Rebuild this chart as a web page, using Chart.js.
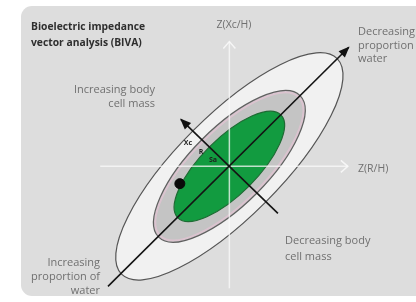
<!DOCTYPE html>
<html>
<head>
<meta charset="utf-8">
<script src="https://cdn.jsdelivr.net/npm/chart.js@4"></script>
<style>
    html, body { margin: 0; padding: 0; background: #ffffff; }
    #wrap { width: 416px; height: 302px; position: relative; }
</style>
</head>
<body>
<div id="wrap"><canvas id="biva"></canvas></div>
<script>
// Tolerance ellipses (outer -> inner), centred on the axis origin, tilted 45deg
const ellipseNames = ['95%', '75%', '50%'];
const ellipseCenterX = [0, 0, 0];
const ellipseCenterY = [0, 0, 0];
const ellipseSemiMajor = [15.7, 10.3, 7.5];
const ellipseSemiMinor = [5.3, 4.0, 2.9];
const ellipseAngleDeg = [45, 45, 45];

// Axes Z(R/H) and Z(Xc/H)
const axisRX = [-13.3, 12.2];
const axisRY = [0, 0];
const axisXcX = [0, 0];
const axisXcY = [-12.7, 13.0];

// Hydration arrow (major axis) and body cell mass arrow (minor axis)
const waterArrowX = [-12.5, 12.3];
const waterArrowY = [-12.5, 12.4];
const massArrowX = [5.0, -5.0];
const massArrowY = [-4.9, 4.9];

// Subject vector point
const subjectX = [-5.1];
const subjectY = [-1.8];

const titleLines = ['Bioelectric impedance', 'vector analysis (BIVA)'];
const axisLabelR = 'Z(R/H)';
const axisLabelXc = 'Z(Xc/H)';
const massUpLines = ['Increasing body', 'cell mass'];
const massDownLines = ['Decreasing body', 'cell mass'];
const waterDownLines = ['Decreasing', 'proportion of', 'water'];
const waterUpLines = ['Increasing', 'proportion of', 'water'];
const markLabels = ['Xc', 'R', 'Sa'];

const ellipseFills = ['#f1f1f1', '#c4c4c4', '#129b40'];
const ellipseStrokes = ['#555555', '#606060', '#1d6b33'];

function pts(xs, ys) {
    return xs.map((x, i) => ({ x: x, y: ys[i] }));
}

const FONT = '"Open Sans", "Liberation Sans", sans-serif';

const bivaPlugin = {
    id: 'biva',
    beforeDraw(chart) {
        const ctx = chart.ctx;
        ctx.save();
        ctx.fillStyle = '#ffffff';
        ctx.fillRect(0, 0, chart.width, chart.height);
        ctx.fillStyle = '#dddddd';
        ctx.beginPath();
        ctx.roundRect(21, 6, chart.width - 21 + 10, 290, 11);
        ctx.fill();
        ctx.restore();
    },
    beforeDatasetsDraw(chart) {
        const ctx = chart.ctx;
        const xs = chart.scales.x;
        const ys = chart.scales.y;
        ctx.save();
        ellipseNames.forEach((name, i) => {
            const cx = xs.getPixelForValue(ellipseCenterX[i]);
            const cy = ys.getPixelForValue(ellipseCenterY[i]);
            const rx = Math.abs(xs.getPixelForValue(ellipseSemiMajor[i]) - xs.getPixelForValue(0));
            const ry = Math.abs(ys.getPixelForValue(ellipseSemiMinor[i]) - ys.getPixelForValue(0));
            const rot = -ellipseAngleDeg[i] * Math.PI / 180;
            ctx.beginPath();
            ctx.ellipse(cx, cy, rx, ry, rot, 0, Math.PI * 2);
            ctx.fillStyle = ellipseFills[i];
            ctx.fill();
            if (i === 1) {
                // faint pinkish rim inside the middle ellipse
                ctx.beginPath();
                ctx.ellipse(cx, cy, rx - 2, ry - 2, rot, 0, Math.PI * 2);
                ctx.strokeStyle = 'rgba(225,195,210,0.8)';
                ctx.lineWidth = 2;
                ctx.stroke();
                ctx.beginPath();
                ctx.ellipse(cx, cy, rx, ry, rot, 0, Math.PI * 2);
            }
            ctx.strokeStyle = ellipseStrokes[i];
            ctx.lineWidth = 1.2;
            ctx.stroke();
        });
        ctx.restore();
    },
    afterDatasetsDraw(chart) {
        const ctx = chart.ctx;
        ctx.save();

        // arrow heads
        chart.data.datasets.forEach((ds, i) => {
            if (!ds.head) return;
            const meta = chart.getDatasetMeta(i);
            const n = meta.data.length;
            const tip = meta.data[n - 1];
            const from = meta.data[n - 2];
            const ang = Math.atan2(tip.y - from.y, tip.x - from.x);
            ctx.save();
            ctx.translate(tip.x, tip.y);
            ctx.rotate(ang);
            if (ds.head === 'solid') {
                ctx.beginPath();
                ctx.moveTo(1, 0);
                ctx.lineTo(-10, -4.5);
                ctx.lineTo(-10, 4.5);
                ctx.closePath();
                ctx.fillStyle = '#111111';
                ctx.fill();
            } else {
                ctx.beginPath();
                ctx.moveTo(-7, -6);
                ctx.lineTo(0, 0);
                ctx.lineTo(-7, 6);
                ctx.strokeStyle = 'rgba(250,250,250,0.85)';
                ctx.lineWidth = 1.5;
                ctx.stroke();
            }
            ctx.restore();
        });

        ctx.textBaseline = 'middle';

        // title
        ctx.fillStyle = '#2e2e2e';
        ctx.font = 'bold 10.3px ' + FONT;
        ctx.textAlign = 'left';
        titleLines.forEach((t, k) => ctx.fillText(t, 31, 27 + k * 16));

        ctx.fillStyle = '#707070';
        ctx.font = '11px ' + FONT;

        ctx.textAlign = 'right';
        massUpLines.forEach((t, k) => ctx.fillText(t, 155, 90 + k * 14));
        waterUpLines.forEach((t, k) => ctx.fillText(t, 100, 263 + k * 14));

        ctx.textAlign = 'left';
        massDownLines.forEach((t, k) => ctx.fillText(t, 285, 241 + k * 16));
        waterDownLines.forEach((t, k) => ctx.fillText(t, 358, 32 + k * 13.5));

        ctx.font = '10.5px ' + FONT;
        ctx.fillText(axisLabelR, 358, 169);
        ctx.textAlign = 'center';
        ctx.fillText(axisLabelXc, 234, 25);

        // small labels along the cell mass arrow
        ctx.fillStyle = '#1e1e1e';
        ctx.font = 'bold 7px ' + FONT;
        const markPos = [[188, 143], [201, 152], [213, 160]];
        markLabels.forEach((t, k) => ctx.fillText(t, markPos[k][0], markPos[k][1]));

        ctx.restore();
    }
};

new Chart(
    document.getElementById('biva'),
    {
        type: 'scatter',
        data: {
            datasets: [
                {
                    label: 'Z(R/H)',
                    data: pts(axisRX, axisRY),
                    showLine: true,
                    borderColor: 'rgba(250,250,250,0.75)',
                    borderWidth: 1.5,
                    pointRadius: 0,
                    head: 'open',
                    order: 4
                },
                {
                    label: 'Z(Xc/H)',
                    data: pts(axisXcX, axisXcY),
                    showLine: true,
                    borderColor: 'rgba(250,250,250,0.75)',
                    borderWidth: 1.5,
                    pointRadius: 0,
                    head: 'open',
                    order: 3
                },
                {
                    label: 'water',
                    data: pts(waterArrowX, waterArrowY),
                    showLine: true,
                    borderColor: '#141414',
                    borderWidth: 1.6,
                    pointRadius: 0,
                    head: 'solid',
                    order: 2
                },
                {
                    label: 'cell mass',
                    data: pts(massArrowX, massArrowY),
                    showLine: true,
                    borderColor: '#141414',
                    borderWidth: 1.6,
                    pointRadius: 0,
                    head: 'solid',
                    order: 2
                },
                {
                    label: 'subject',
                    data: pts(subjectX, subjectY),
                    pointRadius: 5,
                    pointBackgroundColor: '#0a0a0a',
                    pointBorderColor: '#0a0a0a',
                    order: 1
                }
            ]
        },
        options: {
            responsive: true,
            maintainAspectRatio: false,
            animation: false,
            layout: { padding: 0 },
            scales: {
                x: { type: 'linear', min: -23, max: 18.6, display: false },
                y: { type: 'linear', min: -13.5, max: 16.7, display: false }
            },
            plugins: {
                legend: { display: false },
                tooltip: { enabled: false }
            }
        },
        plugins: [bivaPlugin]
    }
);
</script>
</body>
</html>
